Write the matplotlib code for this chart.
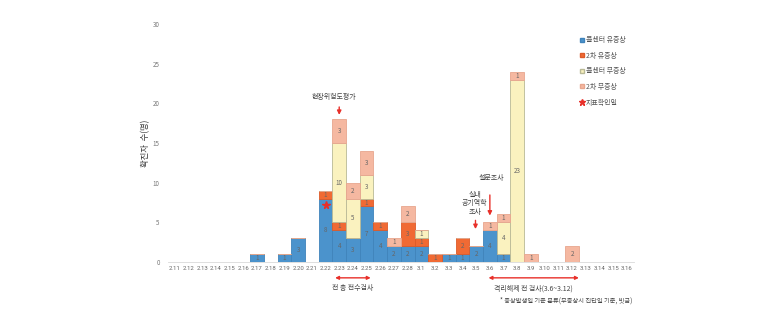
import numpy as np
import matplotlib
matplotlib.use("Agg")
import matplotlib.pyplot as plt
from matplotlib.lines import Line2D

plt.rcParams['font.family'] = ['Noto Sans CJK KR', 'DejaVu Sans']

# dates shown on the x axis (no 2.29 on the chart)
dates = [f'2.{d}' for d in range(11, 29)] + [f'3.{d}' for d in range(1, 17)]

# cases per day, by group
call_sym = {'2.17': 1, '2.19': 1, '2.20': 3, '2.22': 8, '2.23': 4, '2.24': 3, '2.25': 7,
            '2.26': 4, '2.27': 2, '2.28': 2, '3.1': 2, '3.3': 1, '3.4': 1, '3.5': 2,
            '3.6': 4, '3.7': 1}
sec_sym = {'2.22': 1, '2.23': 1, '2.25': 1, '2.26': 1, '2.28': 3, '3.1': 1, '3.2': 1,
           '3.4': 2}
call_asym = {'2.23': 10, '2.24': 5, '2.25': 3, '3.1': 1, '3.7': 4, '3.8': 23}
sec_asym = {'2.23': 3, '2.24': 2, '2.25': 3, '2.27': 1, '2.28': 2, '3.6': 1, '3.7': 1,
            '3.8': 1, '3.9': 1, '3.12': 2}

series_names = ['콜센터 유증상', '2차 유증상', '콜센터 무증상', '2차 무증상']
series_data = [call_sym, sec_sym, call_asym, sec_asym]
colors = ['#4b93cc', '#f06a34', '#faf2bf', '#f5b8a1']
edges = ['#3f83bb', '#dd5a28', '#b9b996', '#e8a68e']

index_date = '2.22'
index_y = 7.2

fig = plt.figure(figsize=(7.8, 3.13), dpi=100)
ax = fig.add_axes([0.2154, 0.163, 0.597, 0.760])

x = np.arange(len(dates))
bottom = np.zeros(len(dates))
for name, data, c, ec in zip(series_names, series_data, colors, edges):
    vals = np.array([data.get(d, 0) for d in dates], dtype=float)
    ax.bar(x, vals, width=1.0, bottom=bottom, color=c, edgecolor=ec, linewidth=0.6, label=name)
    for xi, v, b in zip(x, vals, bottom):
        if v > 0:
            ax.text(xi, b + v / 2, f'{int(v)}', ha='center', va='center',
                    fontsize=4.5, color='#666666')
    bottom += vals

ax.plot(dates.index(index_date), index_y, marker='*', color='#e8302a', markersize=5.5, zorder=5)

# annotations with red arrows
arrow_kw = dict(arrowstyle='-|>', color='#e8302a', lw=1.0, mutation_scale=6)
i23 = dates.index('2.23')
ax.annotate('', xy=(i23, 18.2), xytext=(i23, 19.9), arrowprops=arrow_kw)
ax.text(i23 - 0.4, 20.8, '현장위험도평가', ha='center', va='center', fontsize=5, color='#444444')

i36 = dates.index('3.6')
ax.annotate('', xy=(i36, 5.5), xytext=(i36, 8.8), arrowprops=arrow_kw)
ax.text(i36 + 0.1, 10.6, '설문조사', ha='center', va='center', fontsize=5, color='#444444')

i35 = dates.index('3.5')
ax.annotate('', xy=(i35 - 0.05, 3.8), xytext=(i35 - 0.05, 5.6), arrowprops=arrow_kw)
ax.text(i35 - 0.1, 7.4, '실내\n공기역학\n조사', ha='center', va='center', fontsize=5,
        color='#444444', linespacing=1.1)

# double arrows below the axis
dbl_kw = dict(arrowstyle='<|-|>', color='#e8302a', lw=1.0, mutation_scale=5)
ax.annotate('', xy=(11.5, -2.0), xytext=(14.5, -2.0), arrowprops=dbl_kw, annotation_clip=False)
ax.text(13.0, -2.8, '전 층 전수검사', ha='center', va='top', fontsize=5, color='#444444')
ax.annotate('', xy=(22.7, -2.0), xytext=(29.7, -2.0), arrowprops=dbl_kw, annotation_clip=False)
ax.text(26.2, -2.8, '격리해제 전 검사(3.6~3.12)', ha='center', va='top', fontsize=5, color='#444444')

fig.text(0.641, 0.040, '* 증상발생일 기준 분류(무증상시 진단일 기준, 빗금)', fontsize=4.5,
         color='#444444', ha='left', va='center')

ax.set_xlim(-0.5, len(dates) - 0.5)
ax.set_ylim(0, 30)
ax.set_xticks(x)
ax.set_xticklabels(dates, fontsize=4.3, color='#666666', family=['Roboto'])
ax.set_yticks(range(0, 31, 5))
ax.tick_params(axis='y', labelsize=4.5, colors='#777777', length=0, pad=6)
ax.tick_params(axis='x', length=0, pad=3)
ax.set_ylabel('확진자  수(명)', fontsize=6, color='#333333', labelpad=2)
for s in ['top', 'right', 'left']:
    ax.spines[s].set_visible(False)
ax.spines['bottom'].set_color('#d9d9d9')
ax.spines['bottom'].set_linewidth(0.6)

handles = [Line2D([], [], marker='s', ls='', color=c, markeredgecolor=ec, markersize=3.5)
           for c, ec in zip(colors, edges)]
handles.append(Line2D([], [], marker='*', ls='', color='#e8302a', markersize=5))
labels = series_names + ['지표확인일']
fig.legend(handles, labels, loc='upper left', bbox_to_anchor=(0.735, 0.905), frameon=False,
           fontsize=5, handlelength=0.6, handletextpad=0.3, labelspacing=1.1,
           labelcolor='#555555')

fig.savefig('out.png', dpi=100)
